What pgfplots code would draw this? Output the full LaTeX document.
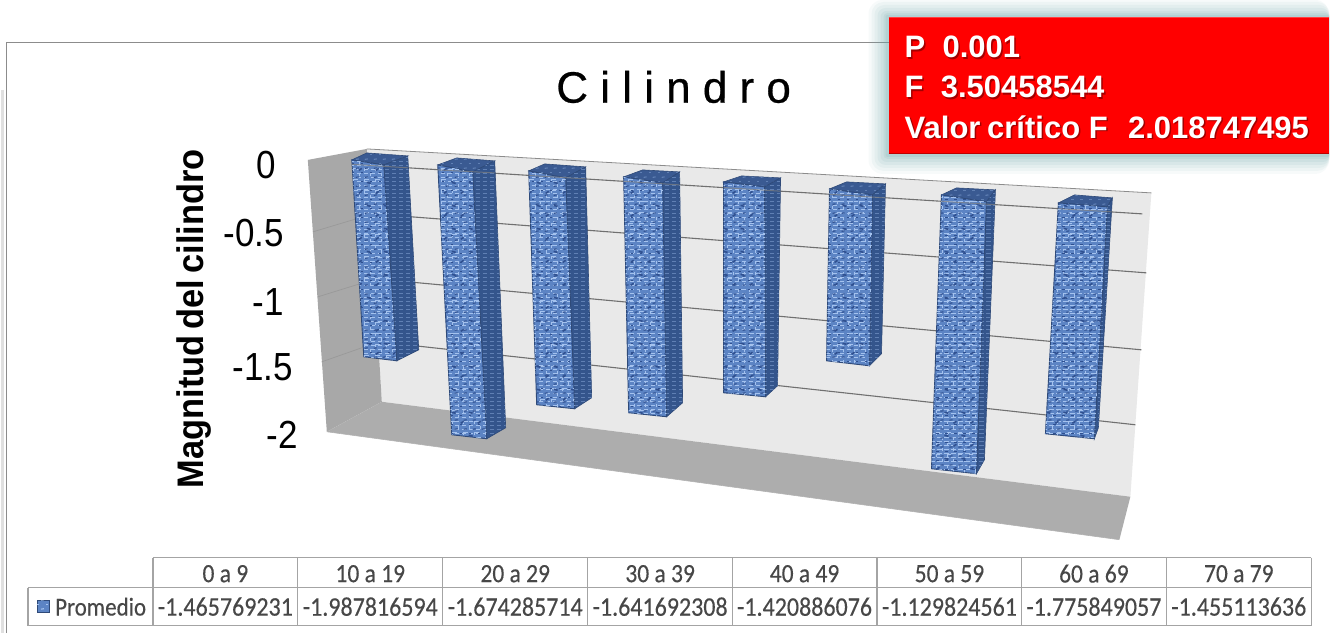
\documentclass[border=0pt]{standalone}
\usepackage{fontspec}
\setmainfont{Liberation Sans}
\newfontfamily\tblfont[FakeBold=0.35]{Carlito}
\usepackage{pgfplots}
\pgfplotsset{compat=1.18}
\usetikzlibrary{patterns}
\pgfdeclarepatternformonly{weaveL}{\pgfqpoint{-1pt}{-1pt}}{\pgfqpoint{8pt}{5pt}}{\pgfqpoint{7pt}{4pt}}{%
  \pgfsetlinewidth{1.2pt}\pgfpathmoveto{\pgfqpoint{0pt}{1pt}}\pgfpathlineto{\pgfqpoint{4.4pt}{1pt}}\pgfusepath{stroke}}
\pgfdeclarepatternformonly{weaveV}{\pgfqpoint{-1pt}{-1pt}}{\pgfqpoint{13pt}{12pt}}{\pgfqpoint{11pt}{11pt}}{%
  \pgfsetlinewidth{1pt}\pgfpathmoveto{\pgfqpoint{2pt}{1pt}}\pgfpathlineto{\pgfqpoint{2pt}{4pt}}\pgfpathlineto{\pgfqpoint{6pt}{4pt}}\pgfusepath{stroke}%
  \pgfpathmoveto{\pgfqpoint{8pt}{7pt}}\pgfpathlineto{\pgfqpoint{8pt}{10pt}}\pgfusepath{stroke}}
\pgfdeclarepatternformonly{weaveD}{\pgfqpoint{-1pt}{-1pt}}{\pgfqpoint{10pt}{10pt}}{\pgfqpoint{9pt}{9pt}}{%
  \pgfsetlinewidth{1.1pt}\pgfpathmoveto{\pgfqpoint{1pt}{3pt}}\pgfpathlineto{\pgfqpoint{3.5pt}{3pt}}\pgfusepath{stroke}%
  \pgfpathmoveto{\pgfqpoint{5pt}{7pt}}\pgfpathlineto{\pgfqpoint{8pt}{7.5pt}}\pgfusepath{stroke}}
\pgfdeclarepatternformonly{weaveB}{\pgfqpoint{-1pt}{-1pt}}{\pgfqpoint{18pt}{24pt}}{\pgfqpoint{17pt}{23pt}}{%
  \pgfsetlinewidth{1.6pt}\pgfpathmoveto{\pgfqpoint{2pt}{4pt}}\pgfpathlineto{\pgfqpoint{5pt}{6pt}}\pgfusepath{stroke}%
  \pgfpathmoveto{\pgfqpoint{10pt}{15pt}}\pgfpathlineto{\pgfqpoint{14pt}{14pt}}\pgfusepath{stroke}}
\definecolor{wall}{HTML}{A8A8A8}
\definecolor{floorc}{HTML}{ADADAD}
\definecolor{back}{HTML}{E9E9E9}
\definecolor{grid}{HTML}{707070}
\definecolor{fbase}{HTML}{5C84C4}
\definecolor{flight}{HTML}{A4C2EE}
\definecolor{fdark}{HTML}{2F5090}
\definecolor{sbase}{HTML}{34558C}
\definecolor{slight}{HTML}{6080B4}
\definecolor{tbase}{HTML}{3A5A92}
\definecolor{edge}{HTML}{2F4A78}
\definecolor{tline}{HTML}{A4A4A4}
\definecolor{glow}{HTML}{6FA8AC}
\newcommand{\fs}[1]{\fontsize{#1}{#1}\selectfont}
\newcommand{\tall}[1]{\scalebox{1}[1.12]{#1}}
% front TL, front TR, front BR, front BL, top back L, top back R, side back bottom
\newcommand{\BAR}[7]{%
  \addplot[fill=tbase,draw=edge,line width=.6pt] coordinates {#1 #5 #6 #2} -- cycle;
  \addplot[draw=none,pattern=weaveD,pattern color=slight] coordinates {#1 #5 #6 #2} -- cycle;
  \addplot[fill=sbase,draw=edge,line width=.6pt] coordinates {#2 #6 #7 #3} -- cycle;
  \addplot[draw=none,pattern=weaveL,pattern color=slight] coordinates {#2 #6 #7 #3} -- cycle;
  \addplot[fill=fbase,draw=edge,line width=.9pt] coordinates {#1 #2 #3 #4} -- cycle;
  \addplot[draw=none,pattern=weaveL,pattern color=flight] coordinates {#1 #2 #3 #4} -- cycle;
  \addplot[draw=none,pattern=weaveV,pattern color=flight] coordinates {#1 #2 #3 #4} -- cycle;
  \addplot[draw=none,pattern=weaveD,pattern color=fdark] coordinates {#1 #2 #3 #4} -- cycle;
  \addplot[draw=none,pattern=weaveB,pattern color=fdark] coordinates {#1 #2 #3 #4} -- cycle;
}
\begin{document}
\begin{tikzpicture}
\begin{axis}[
  scale only axis, width=1330pt, height=633pt,
  xmin=0, xmax=1330, ymin=0, ymax=633, y dir=reverse,
  axis lines=none, clip=false, ticks=none, no markers]
% page
\addplot[fill=white,draw=none] coordinates {(0,0) (1330,0) (1330,633) (0,633)} -- cycle;
% chart frame
\addplot[draw=black!12,line width=3pt] coordinates {(3,90) (3,633)};
\addplot[draw=black!45,line width=1pt] coordinates {(7,633) (7,43) (889,43)};
% walls and floor
\addplot[fill=back,draw=none] coordinates {(367,149) (1152,193) (1131,497) (382,402)} -- cycle;
\addplot[fill=wall,draw=none] coordinates {(308,160) (367,149) (382,402) (327,432)} -- cycle;
\addplot[fill=floorc,draw=none] coordinates {(382,402) (1131,497) (1120,540) (327,432)} -- cycle;
\addplot[draw=black!45,line width=.8pt] coordinates {(367,149) (1152,193)};
\addplot[draw=white!70!black,line width=.6pt] coordinates {(327,432) (1120,540)};
% gridlines, back wall
\addplot[draw=grid,line width=1.1pt] coordinates {(370,165.5) (1143,214)};
\addplot[draw=grid,line width=1.1pt] coordinates {(373,214) (1147,273)};
\addplot[draw=grid,line width=1.1pt] coordinates {(376,279) (1142,350)};
\addplot[draw=grid,line width=1.1pt] coordinates {(379,342) (1136,425)};
% gridlines, side wall
\addplot[draw=black!40,line width=.7pt] coordinates {(373,214) (313,232)};
\addplot[draw=black!40,line width=.7pt] coordinates {(376,279) (318,297)};
\addplot[draw=black!40,line width=.7pt] coordinates {(379,342) (322,362)};
% bars
\BAR{(352,160)}{(384,165)}{(397,361)}{(364,357)}{(367,153)}{(408,156)}{(419,350)}
\BAR{(438,165)}{(473,172)}{(487,439)}{(452,435)}{(457,158)}{(495,161)}{(506,428)}
\BAR{(529,171)}{(566,178)}{(575,409)}{(537,405)}{(545,164)}{(586,167)}{(592,398)}
\BAR{(624,177)}{(663,183)}{(667,417)}{(629,413)}{(643,170)}{(680,172)}{(683,403)}
\BAR{(724,182)}{(765,187)}{(766,397)}{(724,393)}{(742,176)}{(781,178)}{(778,386)}
\BAR{(830,189)}{(873,195)}{(870,366)}{(827,361)}{(847,182)}{(886,184)}{(882,354)}
\BAR{(942,195)}{(987,202)}{(977,474)}{(932,469)}{(957,188)}{(996,190)}{(985,460)}
\BAR{(1059,203)}{(1108,207)}{(1095,439)}{(1046,434)}{(1075,195)}{(1113,198)}{(1099,428)}
% zero gridline over the bars
\addplot[draw=black!50,opacity=.7,line width=1pt] coordinates {(352,164.4) (408,167.9)};
\addplot[draw=black!50,opacity=.7,line width=1pt] coordinates {(438,170) (495,173)};
\addplot[draw=black!50,opacity=.7,line width=1pt] coordinates {(529,175.5) (586,179)};
\addplot[draw=black!50,opacity=.7,line width=1pt] coordinates {(624,181.4) (680,185)};
\addplot[draw=black!50,opacity=.7,line width=1pt] coordinates {(724,187.7) (781,191.3)};
\addplot[draw=black!50,opacity=.7,line width=1pt] coordinates {(830,194.4) (886,198)};
\addplot[draw=black!50,opacity=.7,line width=1pt] coordinates {(942,201.4) (996,204.8)};
\addplot[draw=black!50,opacity=.7,line width=1pt] coordinates {(1059,208.8) (1113,212)};
% title and axis text
\node[inner sep=0pt] at (axis cs:674,87) {\fs{44}\addfontfeature{FakeBold=0.6}C i l i n d r o};
\node[inner sep=0pt,rotate=90] at (axis cs:194,319) {\scalebox{.93}[1]{\fs{37}\bfseries Magnitud\hspace{-.1em} del\hspace{-.1em} cilindro}};
\node[inner sep=0pt,anchor=east] at (axis cs:276,165) {\tall{\fs{35}0}};
\node[inner sep=0pt,anchor=east] at (axis cs:284,233) {\tall{\fs{35}-0.5}};
\node[inner sep=0pt,anchor=east] at (axis cs:284,302) {\tall{\fs{35}-1}};
\node[inner sep=0pt,anchor=east] at (axis cs:293,367) {\tall{\fs{35}-1.5}};
\node[inner sep=0pt,anchor=east] at (axis cs:298,435) {\tall{\fs{35}-2}};
% data table
\addplot[draw=tline,line width=1.2pt] coordinates {(153,558) (1312,558)};
\addplot[draw=tline,line width=1.2pt] coordinates {(28,588) (1312,588)};
\addplot[draw=tline,line width=1.2pt] coordinates {(28,626) (1312,626)};
\addplot[draw=tline,line width=1.2pt] coordinates {(28,588) (28,626)};
\addplot[draw=tline,line width=1.2pt] coordinates {(153,558) (153,626)};
\addplot[draw=tline,line width=1.2pt] coordinates {(298,558) (298,626)};
\addplot[draw=tline,line width=1.2pt] coordinates {(443,558) (443,626)};
\addplot[draw=tline,line width=1.2pt] coordinates {(588,558) (588,626)};
\addplot[draw=tline,line width=1.2pt] coordinates {(733,558) (733,626)};
\addplot[draw=tline,line width=1.2pt] coordinates {(877.5,558) (877.5,626)};
\addplot[draw=tline,line width=1.2pt] coordinates {(1022,558) (1022,626)};
\addplot[draw=tline,line width=1.2pt] coordinates {(1167,558) (1167,626)};
\addplot[draw=tline,line width=1.2pt] coordinates {(1312,558) (1312,626)};
\addplot[fill=fbase,draw=edge,line width=.7pt] coordinates {(37,601) (49,601) (49,613) (37,613)} -- cycle;
\addplot[draw=none,pattern=weaveD,pattern color=flight] coordinates {(37,601) (49,601) (49,613) (37,613)} -- cycle;
\foreach \xx/\lab in {225.5/0 a 9,370.5/10 a 19,515.5/20 a 29,660.5/30 a 39,805/40 a 49,950/50 a 59,1094.5/60 a 69,1239.5/70 a 79}{
  \edef\temp{\noexpand\node[inner sep=0pt,text=black!72] at (axis cs:\xx,574) {\noexpand\tall{\noexpand\tblfont\noexpand\fs{23.5}\lab}};}
  \temp
}
\node[inner sep=0pt,anchor=west,text=black!72] at (axis cs:55,607) {\tall{\tblfont\fs{23}Promedio}};
\foreach \xx/\lab in {225.5/-1.465769231,370.5/-1.987816594,515.5/-1.674285714,660.5/-1.641692308,805/-1.420886076,950/-1.129824561,1094.5/-1.775849057,1239.5/-1.455113636}{
  \edef\temp{\noexpand\node[inner sep=0pt,text=black!72] at (axis cs:\xx,607) {\noexpand\tall{\noexpand\tblfont\noexpand\fs{24}\lab}};}
  \temp
}
% red box with soft glow
\fill[fill=glow,opacity=.05,rounded corners=14pt] (axis cs:869,0) rectangle (axis cs:1330,174);
\fill[fill=glow,opacity=.07,rounded corners=12pt] (axis cs:872,2) rectangle (axis cs:1330,171);
\fill[fill=glow,opacity=.08,rounded corners=10pt] (axis cs:875,5) rectangle (axis cs:1330,168);
\fill[fill=glow,opacity=.09,rounded corners=8pt] (axis cs:878,8) rectangle (axis cs:1330,165);
\fill[fill=glow,opacity=.10,rounded corners=6pt] (axis cs:881,11) rectangle (axis cs:1330,162);
\fill[fill=glow,opacity=.12,rounded corners=4pt] (axis cs:884,13) rectangle (axis cs:1330,159);
\fill[fill=glow,opacity=.15,rounded corners=2pt] (axis cs:886,15) rectangle (axis cs:1330,157);
\addplot[fill=red,draw=none] coordinates {(889,17) (1330,17) (1330,154) (889,154)} -- cycle;
\addplot[draw=red!75!black,line width=1.5pt] coordinates {(889,153.5) (1330,153.5)};
\addplot[draw=red!75!white,line width=1pt] coordinates {(889,18) (1330,18)};
\node[inner sep=0pt,anchor=west,text=red!45!black,opacity=.65] at (axis cs:906.5,48.5) {\fs{31}\bfseries P\ \ 0.001};
\node[inner sep=0pt,anchor=west,text=red!45!black,opacity=.65] at (axis cs:906.5,88.5) {\fs{31}\bfseries F\ \ 3.50458544};
\node[inner sep=0pt,anchor=west,text=red!45!black,opacity=.65] at (axis cs:906.5,128.5) {\fs{31}\bfseries Valor\hspace{-.06em} crítico F\ \ \hspace{.1em}2.018747495};
\node[inner sep=0pt,anchor=west,text=white] at (axis cs:905,47) {\fs{31}\bfseries P\ \ 0.001};
\node[inner sep=0pt,anchor=west,text=white] at (axis cs:905,87) {\fs{31}\bfseries F\ \ 3.50458544};
\node[inner sep=0pt,anchor=west,text=white] at (axis cs:905,127) {\fs{31}\bfseries Valor\hspace{-.06em} crítico F\ \ \hspace{.1em}2.018747495};
\end{axis}
\end{tikzpicture}
\end{document}
